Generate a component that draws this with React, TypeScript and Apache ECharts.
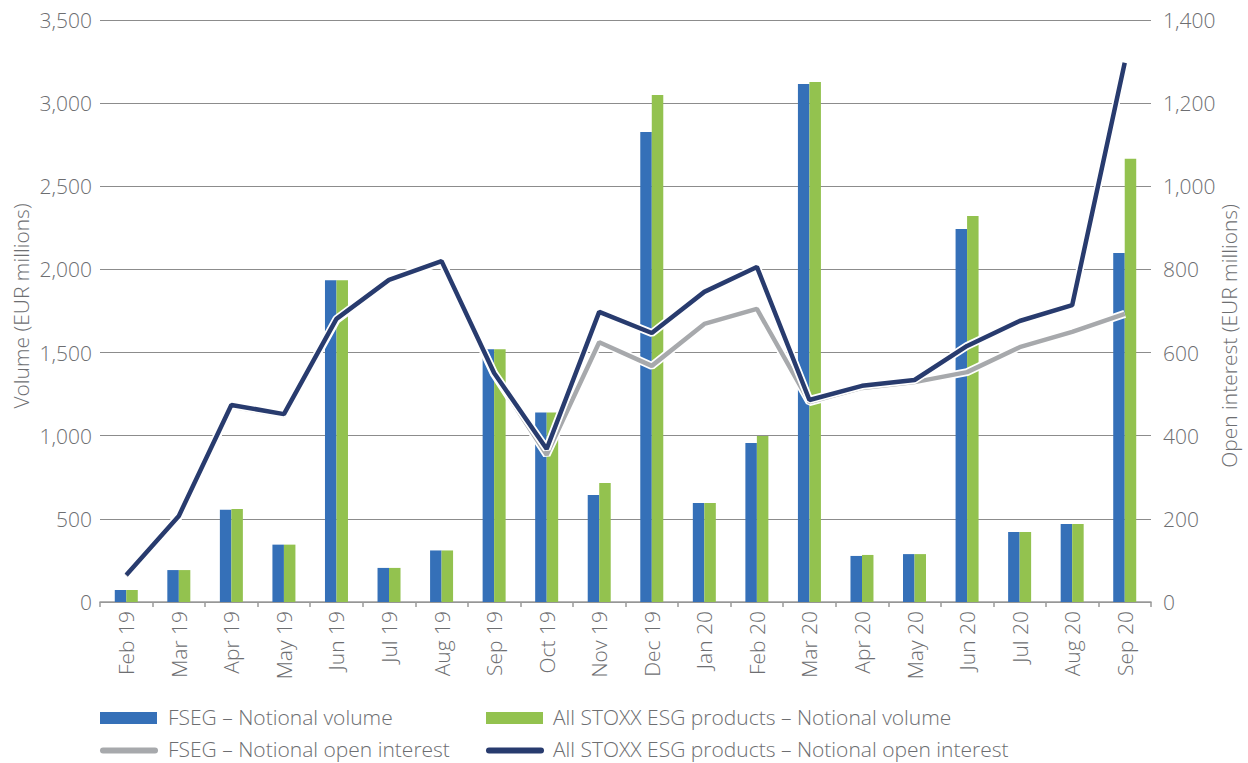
import React, { useEffect, useRef } from "react";
import * as echarts from "echarts";

const categories = [
  "Feb 19", "Mar 19", "Apr 19", "May 19", "Jun 19", "Jul 19", "Aug 19", "Sep 19", "Oct 19", "Nov 19",
  "Dec 19", "Jan 20", "Feb 20", "Mar 20", "Apr 20", "May 20", "Jun 20", "Jul 20", "Aug 20", "Sep 20",
];
const fsegVolume = [72, 192, 555, 345, 1935, 205, 310, 1520, 1140, 643, 2826, 595, 956, 3115, 277, 288, 2243, 421, 469, 2099];
const allVolume = [72, 192, 560, 345, 1935, 205, 310, 1520, 1140, 715, 3049, 595, 998, 3127, 283, 288, 2321, 421, 469, 2665];
const fsegOI = [63, 205, 470, 449, 678, 773, 818, 548, 354, 625, 568, 669, 705, 481, 515, 529, 553, 613, 650, 693];
const allOI = [65, 207, 474, 452, 681, 775, 820, 551, 368, 698, 647, 746, 806, 486, 520, 534, 616, 676, 714, 1297];

const names = [
  "FSEG – Notional volume",
  "All STOXX ESG products – Notional volume",
  "FSEG – Notional open interest",
  "All STOXX ESG products – Notional open interest",
];
const leftAxisName = "Volume (EUR millions)";
const rightAxisName = "Open interest (EUR millions)";

const BLUE = "#3570b8";
const GREEN = "#93c24f";
const GRAY = "#a7a9ac";
const NAVY = "#283b6e";
const TEXT = "#6d6e71";
const FONT = "'Open Sans', sans-serif";
const FW = 300;
const FS = 21;

const fmt = (v: number) => v.toLocaleString("en-US");

export default function App() {
  const ref = useRef<HTMLDivElement>(null);
  useEffect(() => {
    if (!ref.current) return;
    const chart = echarts.init(ref.current, undefined, { renderer: "svg" });
    const legendText = (x: number, y: number, t: string) => ({
      type: "text",
      x,
      y,
      style: { text: t, fill: TEXT, font: `${FW} ${FS}px ${FONT}`, textVerticalAlign: "middle" },
    });
    const axisTitle = (x: number, y: number, t: string) => ({
      type: "text",
      x,
      y,
      rotation: Math.PI / 2,
      style: {
        text: t,
        fill: TEXT,
        font: `${FW} ${FS}px ${FONT}`,
        textAlign: "center",
        textVerticalAlign: "middle",
      },
    });
    chart.setOption({
      animation: false,
      textStyle: { fontFamily: FONT, fontWeight: FW },
      grid: { left: 100, right: 97, top: 20, bottom: 161, containLabel: false, outerBoundsMode: "none" },
      xAxis: {
        type: "category",
        data: categories,
        boundaryGap: true,
        axisLine: { lineStyle: { color: "#9a9a9a", width: 1.5 } },
        axisTick: { show: true, length: 5, lineStyle: { color: "#9a9a9a", width: 1.5 } },
        axisLabel: { rotate: 90, color: TEXT, fontSize: FS, fontFamily: FONT, fontWeight: FW, margin: 9, interval: 0 },
      },
      yAxis: [
        {
          type: "value",
          min: 0,
          max: 3500,
          interval: 500,
          axisLine: { show: false },
          axisTick: { show: false },
          splitLine: { lineStyle: { color: "#8c8c8c", width: 1.2 } },
          axisLabel: { color: TEXT, fontSize: FS, fontFamily: FONT, fontWeight: FW, margin: 8, formatter: fmt },
        },
        {
          type: "value",
          min: 0,
          max: 1400,
          interval: 200,
          axisLine: { show: false },
          axisTick: { show: false },
          splitLine: { show: false },
          axisLabel: { color: TEXT, fontSize: FS, fontFamily: FONT, fontWeight: FW, margin: 12, formatter: fmt },
        },
      ],
      series: [
        {
          name: names[0],
          type: "bar",
          data: fsegVolume,
          barWidth: 11.5,
          barGap: "0%",
          itemStyle: { color: BLUE },
          z: 2,
        },
        {
          name: names[1],
          type: "bar",
          data: allVolume,
          barWidth: 11.5,
          barGap: "0%",
          itemStyle: { color: GREEN },
          z: 2,
        },
        {
          name: "gray-border",
          type: "line",
          yAxisIndex: 1,
          data: fsegOI,
          symbol: "none",
          lineStyle: { color: "#ffffff", width: 8 },
          z: 3,
        },
        {
          name: names[2],
          type: "line",
          yAxisIndex: 1,
          data: fsegOI,
          symbol: "none",
          lineStyle: { color: GRAY, width: 4.5 },
          z: 4,
        },
        {
          name: "navy-border",
          type: "line",
          yAxisIndex: 1,
          data: allOI,
          symbol: "none",
          lineStyle: { color: "#ffffff", width: 8 },
          z: 5,
        },
        {
          name: names[3],
          type: "line",
          yAxisIndex: 1,
          data: allOI,
          symbol: "none",
          lineStyle: { color: NAVY, width: 4.5 },
          z: 6,
        },
      ],
      graphic: [
        axisTitle(21, 306, leftAxisName),
        axisTitle(1229, 336, rightAxisName),
        { type: "rect", shape: { x: 100, y: 712, width: 57, height: 12 }, style: { fill: BLUE } },
        legendText(168, 717, names[0]),
        { type: "rect", shape: { x: 486, y: 712, width: 57, height: 12 }, style: { fill: GREEN } },
        legendText(553, 717, names[1]),
        {
          type: "line",
          shape: { x1: 103, y1: 750.5, x2: 155, y2: 750.5 },
          style: { stroke: GRAY, lineWidth: 6, lineCap: "round" },
        },
        legendText(168, 749, names[2]),
        {
          type: "line",
          shape: { x1: 489, y1: 750.5, x2: 541, y2: 750.5 },
          style: { stroke: NAVY, lineWidth: 6, lineCap: "round" },
        },
        legendText(553, 749, names[3]),
      ],
    });
    return () => chart.dispose();
  }, []);
  return (
    <div
      ref={ref}
      style={{ position: "absolute", left: 0, top: 0, width: 1248, height: 763, background: "#ffffff" }}
    />
  );
}
